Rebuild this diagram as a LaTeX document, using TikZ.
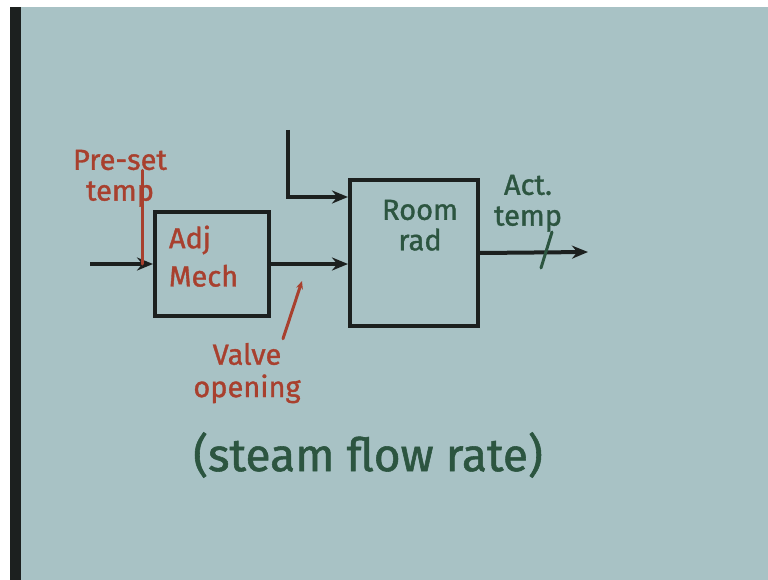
\documentclass[tikz,border=0pt]{standalone}
\usepackage{fontspec}
\setmainfont{Fira Sans}
\newfontfamily\marker{Fira Sans}[FakeBold=1.2]
\usetikzlibrary{arrows.meta, positioning}

\definecolor{board}{HTML}{A8C2C5}
\definecolor{ink}{HTML}{1C201F}
\definecolor{chalkred}{HTML}{A8402E}
\definecolor{chalkgreen}{HTML}{2C5540}

\begin{document}
\begin{tikzpicture}[
    x=1pt, y=-1pt,
    every node/.style={inner sep=0pt},
    block/.style={draw=ink, line width=4pt},
    redtxt/.style={text=chalkred, font=\fontsize{29}{30}\marker},
    greentxt/.style={text=chalkgreen, font=\fontsize{29}{30}\marker},
    arrow/.style={draw=ink, line width=4pt, -{Stealth[length=16pt, width=13pt]}},
    pointer/.style={line width=3pt, line cap=round}
]

% Fond du tableau
\fill[white] (0,0) rectangle (768,580);
\fill[board] (10,7) rectangle (768,580);
\fill[ink] (10,7) rectangle (21,580);
\useasboundingbox (0,0) rectangle (768,580);

% Deux blocs
\node[block, minimum width=114pt, minimum height=104pt] (adj) at (212,264) {};
\node[block, minimum width=128pt, minimum height=146pt] (room) at (414,253) {};

\node[redtxt] (adjA) at (190,240) {Adj};
\node[redtxt, below=10pt of adjA.south west, anchor=north west] (adjM) {Mech};
\node[greentxt] (roomR) at (420,210) {Room};
\node[greentxt, below=8pt of roomR] (roomr) {rad};

% Entrée, commande, perturbation, sortie
\coordinate (in) at (90,264);
\coordinate (dist) at (288,130);
\coordinate (out) at (588,252);
\draw[arrow] (in) -- (adj.west);
\draw[arrow] (adj.east) -- (adj.east -| room.west);
\draw[arrow] (dist) |- ([yshift=56pt]room.west);
\draw[arrow] (room.east) -- (out);

% Étiquettes
\node[redtxt] (pre) at (120,160) {Pre-set};
\node[redtxt, below=11pt of pre] (pretemp) {temp};
\draw[pointer, chalkred] ([xshift=22pt]pre.south) -- ([xshift=22pt]pre.south |- in);

\node[greentxt] (act) at (528,185) {Act.};
\node[greentxt, below=11pt of act] (acttemp) {temp};
\draw[pointer, chalkgreen] ([xshift=24pt]acttemp.south) -- ++(-11,36);

\node[redtxt] (valve) at (247,354) {Valve};
\node[redtxt, below=9pt of valve] (opening) {opening};
\draw[pointer, chalkred, -{Stealth[length=8pt, width=7pt]}] ([xshift=36pt, yshift=4pt]valve.north) -- (302,281);

\node[greentxt, font=\fontsize{46}{48}\marker] (steam) at (368,455) {(steam flow rate)};

\end{tikzpicture}
\end{document}
